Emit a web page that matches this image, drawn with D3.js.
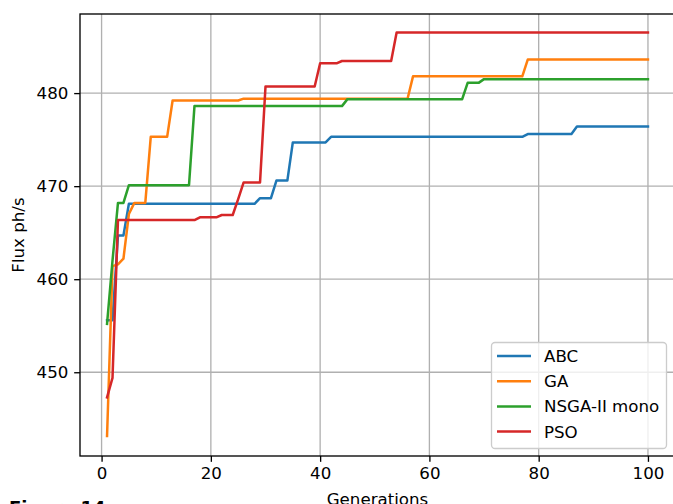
<!DOCTYPE html>
<html>
<head>
<meta charset="utf-8">
<script src="https://cdn.jsdelivr.net/npm/d3@7"></script>
<style>
  body { margin: 0; background: #fff; }
  svg { display: block; font-family: "DejaVu Sans", sans-serif; }
</style>
</head>
<body>
<div id="chart"></div>
<script>
// values (generation, best flux so far)
const genABC = [1, 2, 3, 4, 5, 28, 29, 31, 32, 34, 35, 41, 42, 77, 78, 86, 87, 100];
const fluxABC = [455.6, 455.6, 464.7, 464.7, 468.1, 468.1, 468.7, 468.7, 470.6, 470.6, 474.7, 474.7, 475.3, 475.3, 475.6, 475.6, 476.4, 476.4];

const genGA = [1, 2, 3, 4, 5, 6, 8, 9, 12, 13, 25, 26, 56, 57, 77, 78, 100];
const fluxGA = [443.15, 461.4, 461.6, 462.2, 467.0, 468.2, 468.2, 475.3, 475.3, 479.2, 479.2, 479.4, 479.4, 481.8, 481.8, 483.6, 483.6];

const genNSGA = [1, 2, 3, 4, 5, 16, 17, 44, 45, 66, 67, 69, 70, 100];
const fluxNSGA = [455.2, 462.0, 468.2, 468.2, 470.1, 470.1, 478.6, 478.6, 479.35, 479.35, 481.1, 481.1, 481.5, 481.5];

const genPSO = [1, 2, 3, 17, 18, 21, 22, 24, 25, 26, 29, 30, 39, 40, 43, 44, 53, 54, 100];
const fluxPSO = [447.3, 449.4, 466.35, 466.35, 466.65, 466.65, 466.9, 466.9, 468.6, 470.4, 470.4, 480.7, 480.7, 483.2, 483.2, 483.45, 483.45, 486.5, 486.5];

const seriesNames = ["ABC", "GA", "NSGA-II mono", "PSO"];
const seriesColors = ["#1f77b4", "#ff7f0e", "#2ca02c", "#d62728"];
const xTicks = [0, 20, 40, 60, 80, 100];
const yTicks = [450, 460, 470, 480];

const width = 673, height = 504;
const margin = { top: 14, left: 80, right: 675, bottom: 456 }; // axes box in px (right edge is cropped)
const fs = 16.67;

const series = [
  { name: seriesNames[0], color: seriesColors[0], gens: genABC, flux: fluxABC },
  { name: seriesNames[1], color: seriesColors[1], gens: genGA, flux: fluxGA },
  { name: seriesNames[2], color: seriesColors[2], gens: genNSGA, flux: fluxNSGA },
  { name: seriesNames[3], color: seriesColors[3], gens: genPSO, flux: fluxPSO }
].map(s => ({ ...s, points: s.gens.map((g, i) => ({ g: g, v: s.flux[i] })) }));

const x = d3.scaleLinear().domain([-3.95, 104.95]).range([margin.left, margin.right]);
const y = d3.scaleLinear().domain([441.0, 488.5]).range([margin.bottom, margin.top]);

const svg = d3.select("#chart")
  .append("svg")
  .attr("width", width)
  .attr("height", height);

// grid
svg.append("g")
  .selectAll("line.vg")
  .data(xTicks)
  .enter()
  .append("line")
  .attr("x1", d => x(d)).attr("x2", d => x(d))
  .attr("y1", margin.top).attr("y2", margin.bottom)
  .attr("stroke", "#b0b0b0")
  .attr("stroke-width", 1.33);

svg.append("g")
  .selectAll("line.hg")
  .data(yTicks)
  .enter()
  .append("line")
  .attr("x1", margin.left).attr("x2", margin.right)
  .attr("y1", d => y(d)).attr("y2", d => y(d))
  .attr("stroke", "#b0b0b0")
  .attr("stroke-width", 1.33);

svg.append("clipPath")
  .attr("id", "axes-clip")
  .append("rect")
  .attr("x", margin.left).attr("y", margin.top)
  .attr("width", margin.right - margin.left)
  .attr("height", margin.bottom - margin.top);

const line = d3.line()
  .x(d => x(d.g))
  .y(d => y(d.v));

svg.append("g")
  .attr("clip-path", "url(#axes-clip)")
  .selectAll("path")
  .data(series)
  .enter()
  .append("path")
  .attr("d", d => line(d.points))
  .attr("fill", "none")
  .attr("stroke", d => d.color)
  .attr("stroke-width", 2.5)
  .attr("stroke-linejoin", "round")
  .attr("stroke-linecap", "square");

// axes
const xAxis = d3.axisBottom(x).tickValues(xTicks).tickSize(5.83).tickPadding(5.83);
const yAxis = d3.axisLeft(y).tickValues(yTicks).tickSize(5.83).tickPadding(5.83);

const gx = svg.append("g")
  .attr("transform", `translate(0,${margin.bottom})`)
  .call(xAxis);
const gy = svg.append("g")
  .attr("transform", `translate(${margin.left},0)`)
  .call(yAxis);

[gx, gy].forEach(g => {
  g.select(".domain").remove();
  g.selectAll(".tick line").attr("stroke", "#000").attr("stroke-width", 1.33);
  g.selectAll(".tick text")
    .attr("fill", "#000")
    .style("font-size", fs + "px")
    .style("font-family", "DejaVu Sans, sans-serif");
});

// spines
svg.append("rect")
  .attr("x", margin.left).attr("y", margin.top)
  .attr("width", margin.right - margin.left)
  .attr("height", margin.bottom - margin.top)
  .attr("fill", "none")
  .attr("stroke", "#000")
  .attr("stroke-width", 1.33);

// axis labels
svg.append("text")
  .attr("x", (margin.left + margin.right) / 2)
  .attr("y", 505)
  .attr("text-anchor", "middle")
  .style("font-size", fs + "px")
  .text("Generations");

svg.append("text")
  .attr("transform", `translate(24,${(margin.top + margin.bottom) / 2}) rotate(-90)`)
  .attr("text-anchor", "middle")
  .style("font-size", fs + "px")
  .text("Flux ph/s");

// caption under the figure, cut off by the crop
svg.append("text")
  .attr("x", 9)
  .attr("y", 514)
  .style("font-size", "18px")
  .style("font-weight", "bold")
  .text("Figure 14");

// legend
const legend = svg.append("g");
legend.append("rect")
  .attr("x", 491.5).attr("y", 342.5)
  .attr("width", 175).attr("height", 106)
  .attr("rx", 3.5)
  .attr("fill", "#fff")
  .attr("fill-opacity", 0.8)
  .attr("stroke", "#cccccc")
  .attr("stroke-width", 1.33);

const rowH = 25.2;
const rows = legend.selectAll("g.row")
  .data(series)
  .enter()
  .append("g")
  .attr("transform", (d, i) => `translate(0,${356 + i * rowH})`);

rows.append("line")
  .attr("x1", 497).attr("x2", 531)
  .attr("stroke", d => d.color)
  .attr("stroke-width", 2.5);

rows.append("text")
  .attr("x", 544)
  .attr("dy", "0.36em")
  .style("font-size", fs + "px")
  .text(d => d.name);
</script>
</body>
</html>
